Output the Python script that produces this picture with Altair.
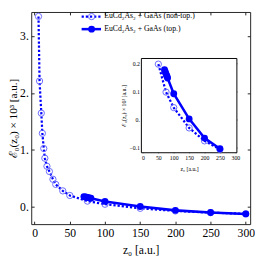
import altair as alt
import pandas as pd

# ---- data ----
z_nontop = [5.5, 7, 9.5, 11, 13, 14.5, 17.5, 21, 26, 30, 40, 50, 75, 100, 150, 200, 250, 300]
v_nontop = [3.346, 2.21, 1.645, 1.29, 1.023, 0.852, 0.711, 0.619, 0.482, 0.392, 0.278, 0.197,
            0.098, 0.043, -0.029, -0.075, -0.105, -0.125]
z_top = [70, 72, 74, 76, 78, 80, 100, 150, 200, 250, 300]
v_top = [0.177, 0.171, 0.165, 0.159, 0.154, 0.148, 0.092, 0.003, -0.065, -0.103, -0.127]

x_ticks = [0, 50, 100, 150, 200, 250, 300]
y_ticks = [0, 1, 2, 3]
inset_x_ticks = [0, 50, 100, 150, 200, 250, 300]
inset_y_ticks = [-0.1, 0, 0.1, 0.2]
legend_labels = ["EuCd₂As₂ + GaAs (non-top.)", "EuCd₂As₂ + GaAs (top.)"]
x_title = "z₀ [a.u.]"
y_title = "ℰ₀(z₀) × 10³ [a.u.]"

df_n = pd.DataFrame({"z": z_nontop, "v": v_nontop})
df_t = pd.DataFrame({"z": z_top, "v": v_top})

W, H = 226, 219
FONT = "Liberation Serif"
BLUE = "#0000ff"
LIGHT = "#6a6aff"
DASH = [2.3, 2.0]

# ---- main panel ----
xs = alt.Scale(domain=[-4.8, 306.2], nice=False, zero=False)
ys = alt.Scale(domain=[-0.307, 3.424], nice=False, zero=False)


def menc(xaxis=None, yaxis=None):
    return dict(x=alt.X("z:Q", scale=xs, axis=xaxis), y=alt.Y("v:Q", scale=ys, axis=yaxis))


bottom_axis = alt.Axis(values=x_ticks, title=x_title, ticks=False, tickSize=0, domain=False,
                       labelFontSize=12, labelPadding=4, titleFontSize=12, titlePadding=6,
                       labelFlush=False)
left_axis = alt.Axis(values=y_ticks, title=y_title, ticks=False, tickSize=0, domain=False,
                     labelFontSize=12, labelPadding=3, titleFontSize=11.5, titlePadding=1,
                     labelExpr="datum.value + '.'")


def tick_axis(orient, offset, values):
    return alt.Axis(orient=orient, offset=offset, values=values, labels=False, domain=False,
                    tickSize=3, title="", ticks=True)


line_n = alt.Chart(df_n).mark_line(color=BLUE, strokeWidth=2.3, strokeDash=DASH).encode(
    **menc(bottom_axis, left_axis))
pts_n = alt.Chart(df_n).mark_point(shape="circle", size=42, filled=False, color=LIGHT,
                                   strokeWidth=1, opacity=1).encode(**menc())
line_t = alt.Chart(df_t).mark_line(color=BLUE, strokeWidth=2.6).encode(**menc())
pts_t = alt.Chart(df_t).mark_point(shape="circle", size=50, filled=True, color=BLUE,
                                   opacity=1).encode(**menc())

ax_b_in = alt.Chart(df_n).mark_line(opacity=0).encode(
    **menc(tick_axis("top", -H, x_ticks), None))
ax_t_in = alt.Chart(df_n).mark_line(opacity=0).encode(
    **menc(tick_axis("bottom", -H, x_ticks), None))
ax_l_in = alt.Chart(df_n).mark_line(opacity=0).encode(
    **menc(None, tick_axis("right", -W, y_ticks)))
ax_r_in = alt.Chart(df_n).mark_line(opacity=0).encode(
    **menc(None, tick_axis("left", -W, y_ticks)))

# legend (decoration, pixel placed)
leg = []
for i, (lab, dashed) in enumerate(zip(legend_labels, [True, False])):
    yy = 4.7 + 13 * i
    if dashed:
        ln = alt.Chart().mark_rule(color=BLUE, strokeWidth=2.3, strokeDash=DASH)
        pt = alt.Chart().mark_point(shape="circle", size=42, filled=False, color=LIGHT,
                                    strokeWidth=1, opacity=1)
    else:
        ln = alt.Chart().mark_rule(color=BLUE, strokeWidth=2.6)
        pt = alt.Chart().mark_point(shape="circle", size=50, filled=True, color=BLUE, opacity=1)
    leg.append(ln.encode(x=alt.value(52), x2=alt.value(72), y=alt.value(yy)))
    leg.append(pt.encode(x=alt.value(62.3), y=alt.value(yy)))
    leg.append(alt.Chart().mark_text(align="left", baseline="middle", font=FONT, fontSize=8,
                                     color="black").encode(
        x=alt.value(75.3), y=alt.value(yy), text=alt.value(lab)))

main = alt.layer(line_n, pts_n, line_t, pts_t, ax_b_in, ax_t_in, ax_l_in, ax_r_in, *leg
                 ).resolve_axis(x="independent", y="independent")

# ---- inset panel ----
IX0, IX1, IY0, IY1 = 113.7, 212.3, 48.0, 145.3
ixs = alt.Scale(domain=[-5, 305], range=[IX0, IX1], nice=False, zero=False)
iys = alt.Scale(domain=[-0.117, 0.217], range=[IY1, IY0], nice=False, zero=False)


def ienc(xaxis=None, yaxis=None):
    return dict(x=alt.X("z:Q", scale=ixs, axis=xaxis), y=alt.Y("v:Q", scale=iys, axis=yaxis))


in_filter = (alt.datum.v <= 0.217) & (alt.datum.v >= -0.117)

ib_axis = alt.Axis(orient="bottom", offset=-(H - IY1), values=inset_x_ticks, title=x_title,
                   ticks=False, tickSize=0, domain=False, labelFontSize=6, labelPadding=2,
                   titleFontSize=6, titlePadding=5, labelFlush=False)
il_axis = alt.Axis(orient="left", offset=-IX0, values=inset_y_ticks, title=y_title,
                   ticks=False, tickSize=0, domain=False, labelFontSize=6, labelPadding=2,
                   titleFontSize=6, titlePadding=3,
                   labelExpr="datum.value == 0 ? '0.' : format(datum.value, '.1f')")


def itick(orient, offset, values):
    return alt.Axis(orient=orient, offset=offset, values=values, labels=False, domain=False,
                    tickSize=2, title="", ticks=True)


frame = alt.Chart().mark_rect(fill="white", stroke="black", strokeWidth=1).encode(
    x=alt.XDatum(-5, scale=ixs, axis=None), x2=alt.X2Datum(305),
    y=alt.YDatum(-0.117, scale=iys, axis=None), y2=alt.Y2Datum(0.217))

i_line_n = alt.Chart(df_n).transform_filter(in_filter).mark_line(
    color=BLUE, strokeWidth=2.3, strokeDash=DASH).encode(**ienc(ib_axis, il_axis))
i_pts_n = alt.Chart(df_n).transform_filter(in_filter).mark_point(
    shape="circle", size=42, filled=False, color=LIGHT, strokeWidth=1, opacity=1).encode(**ienc())
i_line_t = alt.Chart(df_t).transform_filter(in_filter).mark_line(
    color=BLUE, strokeWidth=2.6).encode(**ienc())
i_pts_t = alt.Chart(df_t).transform_filter(in_filter).mark_point(
    shape="circle", size=50, filled=True, color=BLUE, opacity=1).encode(**ienc())

i_b_in = alt.Chart(df_t).mark_line(opacity=0).encode(
    **ienc(itick("top", -IY1, inset_x_ticks), None))
i_t_in = alt.Chart(df_t).mark_line(opacity=0).encode(
    **ienc(itick("bottom", IY0 - H, inset_x_ticks), None))
i_l_in = alt.Chart(df_t).mark_line(opacity=0).encode(
    **ienc(None, itick("right", IX0 - W, inset_y_ticks)))
i_r_in = alt.Chart(df_t).mark_line(opacity=0).encode(
    **ienc(None, itick("left", -IX1, inset_y_ticks)))

inset = alt.layer(frame, i_line_n, i_pts_n, i_line_t, i_pts_t, i_b_in, i_t_in, i_l_in, i_r_in
                  ).resolve_axis(x="independent", y="independent")

chart = alt.layer(main, inset).resolve_scale(x="independent", y="independent").properties(
    width=W, height=H,
    padding={"left": 24, "top": 0, "right": 5, "bottom": 36},
    autosize=alt.AutoSizeParams(type="none"),
    background="white",
).configure_view(stroke="#222222", strokeWidth=1).configure_axis(
    labelFont=FONT, titleFont=FONT, labelColor="black", titleColor="black",
    titleFontWeight="normal", grid=False, tickColor="#222222"
)

chart.save("out.html", embed_options={"renderer": "svg", "actions": False})
